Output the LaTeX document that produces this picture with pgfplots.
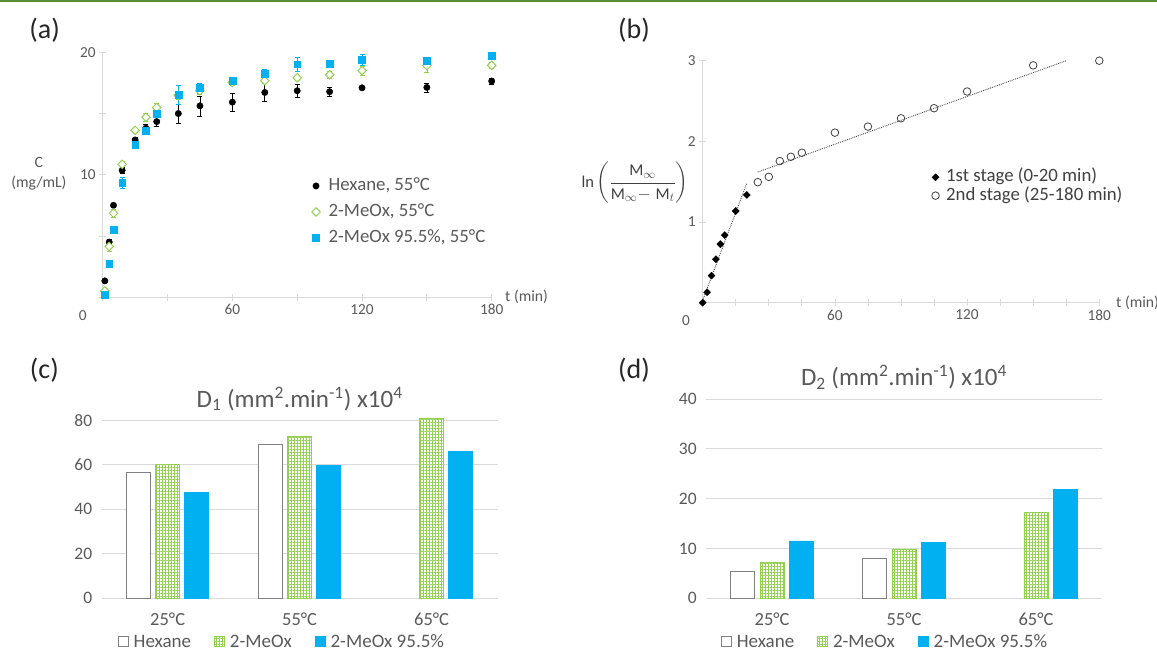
\documentclass[border=0pt]{standalone}
\usepackage{amsmath}
\usepackage{fontspec}
\setmainfont{Carlito}
\usepackage{pgfplots}
\usepackage{pgfplotstable}
\pgfplotsset{compat=1.18}
\usetikzlibrary{patterns.meta}
\definecolor{txt}{HTML}{595959}
\definecolor{axg}{HTML}{D9D9D9}
\definecolor{grn}{HTML}{92D050}
\definecolor{blu}{HTML}{00B0F0}
\definecolor{hdr}{RGB}{88,140,50}
\definecolor{hexg}{HTML}{808080}

\pgfplotstableread{
t c e
1 1.34 0.1
3 4.51 0.25
5 7.51 0.15
9 10.36 0.25
15 12.84 0.2
20 13.80 0.3
25 14.34 0.4
35 15.00 0.8
45 15.63 0.82
60 15.93 0.72
75 16.72 0.75
90 16.86 0.55
105 16.78 0.38
120 17.10 0.15
150 17.13 0.37
180 17.65 0.25
}\hexA
\pgfplotstableread{
t c e
1 0.52 0.1
3 4.15 0.4
5 6.86 0.35
9 10.85 0.3
15 13.63 0.15
20 14.70 0.3
25 15.49 0.35
35 16.50 0.3
45 16.86 0.3
60 17.54 0.25
75 17.68 0.2
90 17.92 0.2
105 18.17 0.25
120 18.50 0.4
150 18.91 0.5
180 18.93 0.25
}\meoxA
\pgfplotstableread{
t c e
1 0.19 0.05
3 2.73 0.1
5 5.49 0.1
9 9.34 0.45
15 12.43 0.2
20 13.58 0.3
25 15.00 0.3
35 16.53 0.8
45 17.10 0.4
60 17.68 0.25
75 18.25 0.4
90 19.02 0.55
105 19.07 0.25
120 19.37 0.45
150 19.34 0.2
180 19.70 0.15
}\blueA

\begin{document}
\begin{tikzpicture}
\useasboundingbox (0pt,0pt) rectangle (1157pt,650pt);
\fill[hdr] (0pt,648pt) rectangle (1157pt,650pt);
\node[font=\fontsize{28}{32}\selectfont, text=black!85] at (44.6pt,620pt) {(a)};
\node[font=\fontsize{28}{32}\selectfont, text=black!85] at (634pt,620pt) {(b)};
\node[font=\fontsize{28}{32}\selectfont, text=black!85] at (44.4pt,280pt) {(c)};
\node[font=\fontsize{28}{32}\selectfont, text=black!85] at (634pt,279.3pt) {(d)};

% ---------------- (a)
\begin{axis}[
  at={(102.7pt,352.7pt)}, anchor=south west,
  scale only axis, width=389pt, height=245pt,
  xmin=0, xmax=180, ymin=0, ymax=20,
  axis x line*=bottom, axis y line*=left,
  axis line style={draw=axg, line width=0.8pt},
  xtick={0,30,...,180}, xticklabels={,,60,,120,,180},
  ytick={0,5,...,20}, yticklabels={,,10,,20},
  tick align=center, major tick length=7pt,
  tick style={draw=axg, line width=0.8pt},
  ticklabel style={font=\fontsize{15.3}{18}\selectfont, text=txt},
  clip=false,
  xlabel={t (min)},
  xlabel style={at={(axis description cs:1,0)}, anchor=west, xshift=10pt, font=\fontsize{15.7}{18}\selectfont, text=txt},
  ylabel={C\\(mg/mL)},
  ylabel style={at={(axis description cs:-0.164,0.503)}, rotate=-90, anchor=center, align=center, font=\fontsize{15.7}{20}\selectfont, text=txt},
  legend style={at={(0.537,0.49)}, anchor=north west, draw=none, fill=none, inner sep=0pt, row sep=9pt, font=\fontsize{18.8}{22}\selectfont, text=txt, nodes={inner sep=0pt, text height=13pt, text depth=4pt}, /tikz/every odd column/.append style={column sep=8.4pt}},
  legend cell align=left,
  legend image code/.code={\draw[#1] plot coordinates {(0pt,0pt)};},
]
\addlegendimage{only marks, mark=*, mark size=3.2pt, black}
\addlegendimage{only marks, mark=square*, mark size=3pt, mark options={rotate=45, draw=grn, fill=white, line width=1pt}}
\addlegendimage{only marks, mark=square*, mark size=3.4pt, blu}
\addplot[only marks, mark=*, mark size=3.2pt, black, forget plot,
  error bars/.cd, y dir=both, y explicit,
  error bar style={black, line width=0.7pt},
  error mark options={black, rotate=90, mark size=2.5pt}]
  table[x=t, y=c, y error=e]{\hexA};
\addplot[only marks, mark=square*, mark size=3pt, mark options={rotate=45, draw=grn, fill=white, line width=1pt}, grn, forget plot,
  error bars/.cd, y dir=both, y explicit,
  error bar style={grn, line width=0.7pt},
  error mark options={grn, rotate=90, mark size=2.5pt}]
  table[x=t, y=c, y error=e]{\meoxA};
\addplot[only marks, mark=square*, mark size=3.4pt, blu, forget plot,
  error bars/.cd, y dir=both, y explicit,
  error bar style={blu, line width=0.7pt},
  error mark options={blu, rotate=90, mark size=2.5pt}]
  table[x=t, y=c, y error=e]{\blueA};
\legend{Hexane\text{,} 55°C, 2-MeOx\text{,} 55°C, 2-MeOx 95.5\%\text{,} 55°C}
\node[font=\fontsize{15.3}{18}\selectfont, text=txt] at (axis cs:0,0) [xshift=-20pt, yshift=-18pt] {0};
\end{axis}

% ---------------- (b)
\begin{axis}[
  at={(702.7pt,347.3pt)}, anchor=south west,
  scale only axis, width=396.6pt, height=242pt,
  xmin=0, xmax=180, ymin=0, ymax=3,
  axis x line*=bottom, axis y line*=left,
  axis line style={draw=axg, line width=0.8pt},
  xtick={0,15,...,180}, xticklabels={,,,,60,,,,120,,,,180},
  ytick={1,2,3},
  /pgf/number format/assume math mode=true,
  tick align=center, major tick length=7pt,
  tick style={draw=axg, line width=0.8pt},
  ticklabel style={font=\fontsize{15.3}{18}\selectfont, text=txt},
  clip=false,
  xlabel={t (min)},
  xlabel style={at={(axis description cs:1,0)}, anchor=west, xshift=13.4pt, font=\fontsize{15.7}{18}\selectfont, text=txt},
  ylabel={$\mathrm{ln}\left(\dfrac{\mathrm{M}_{\infty}}{\mathrm{M}_{\infty}{-}\;\mathrm{M}_{t}}\right)$},
  ylabel style={at={(axis description cs:-0.1707,0.4946)}, rotate=-90, anchor=center, font=\fontsize{16.5}{19}\selectfont, text=black!75},
  legend style={at={(0.577,0.554)}, anchor=north west, draw=none, fill=none, inner sep=0pt, row sep=1.3pt, font=\fontsize{18.8}{22}\selectfont, text=black!75, nodes={inner sep=0pt, text height=13pt, text depth=4pt}, /tikz/every odd column/.append style={column sep=6.8pt}},
  legend cell align=left,
  legend image code/.code={\draw[#1] plot coordinates {(0pt,0pt)};},
]
\addplot[only marks, mark=square*, mark size=2.5pt, mark options={rotate=45}, black]
  coordinates {(0,0) (2,0.129) (4,0.336) (6,0.539) (8,0.726) (10,0.838) (15,1.137) (20,1.336)};
\addlegendentry{1st stage (0-20 min)}
\addplot[only marks, mark=o, mark size=3.8pt, black!75, line width=0.8pt]
  coordinates {(25,1.494) (30,1.560) (35,1.755) (40,1.809) (45,1.859) (60,2.108) (75,2.183) (90,2.286) (105,2.411) (120,2.618) (150,2.942) (180,3.0)};
\addlegendentry{2nd stage (25-180 min)}
\addplot[densely dotted, black!70, line width=0.9pt, forget plot] coordinates {(0,0.03) (20,1.48)};
\addplot[densely dotted, black!70, line width=0.9pt, forget plot] coordinates {(25,1.62) (165,3.0)};
\node[font=\fontsize{15.3}{18}\selectfont, text=txt] at (axis cs:0,0) [xshift=-16.7pt, yshift=-18pt] {0};
\end{axis}

% ---------------- (c)
\begin{axis}[
  at={(101.7pt,51.7pt)}, anchor=south west,
  scale only axis, width=395.9pt, height=178pt,
  ybar=5.2pt, bar width=24pt,
  xmin=-0.5, xmax=2.5, ymin=0, ymax=80,
  xtick={0,1,2}, xticklabels={25°C,55°C,65°C},
  ytick={0,20,...,80},
  ymajorgrids, grid style={draw=axg, line width=0.8pt},
  axis line style={draw=none}, major tick length=0pt,
  xticklabel style={font=\fontsize{18.5}{22}\selectfont, text=txt, yshift=-11pt},
  yticklabel style={font=\fontsize{17.5}{20}\selectfont, text=txt, xshift=-6pt},
  /pgf/number format/assume math mode=true,
  title={D\textsubscript{1} (mm\textsuperscript{2}.min\textsuperscript{-1}) x10\textsuperscript{4}},
  title style={at={(0.5,1)}, anchor=center, yshift=15.6pt, font=\fontsize{25}{28}\selectfont, text=txt},
  clip=false,
  legend style={at={(0.040,-0.244)}, anchor=west, legend columns=-1, draw=none, fill=none, inner sep=0pt, font=\fontsize{19}{22}\selectfont, text=txt, nodes={inner sep=0pt}, /tikz/every even column/.append style={column sep=23pt}, /tikz/every odd column/.append style={column sep=5pt}},
  legend image code/.code={\draw[#1] (0pt,-5pt) rectangle (10pt,5pt);},
]
\addplot[fill=white, draw=hexg, line width=1pt] coordinates {(0,56.7) (1,69.2)};
\addlegendentry{Hexane}
\addplot[fill=white, draw=grn, line width=0.8pt, postaction={pattern color=grn, pattern={Hatch[distance=3pt, line width=0.5pt]}}] coordinates {(0,60.2) (1,72.8) (2,81)};
\addlegendentry{2-MeOx}
\addplot[fill=blu, draw=blu, line width=0.8pt] coordinates {(0,47.7) (1,59.9) (2,65.9)};
\addlegendentry{2-MeOx 95.5\%}
\end{axis}

% ---------------- (d)
\begin{axis}[
  at={(706.2pt,51.7pt)}, anchor=south west,
  scale only axis, width=395.7pt, height=199.3pt,
  ybar=5.2pt, bar width=24pt,
  xmin=-0.5, xmax=2.5, ymin=0, ymax=40,
  xtick={0,1,2}, xticklabels={25°C,55°C,65°C},
  ytick={0,10,...,40},
  ymajorgrids, grid style={draw=axg, line width=0.8pt},
  axis line style={draw=none}, major tick length=0pt,
  xticklabel style={font=\fontsize{18.5}{22}\selectfont, text=txt, yshift=-11pt},
  yticklabel style={font=\fontsize{17.5}{20}\selectfont, text=txt, xshift=-6pt},
  /pgf/number format/assume math mode=true,
  title={D\textsubscript{2} (mm\textsuperscript{2}.min\textsuperscript{-1}) x10\textsuperscript{4}},
  title style={at={(0.5,1)}, anchor=center, yshift=16pt, font=\fontsize{25}{28}\selectfont, text=txt},
  clip=false,
  legend style={at={(0.0364,-0.218)}, anchor=west, legend columns=-1, draw=none, fill=none, inner sep=0pt, font=\fontsize{19}{22}\selectfont, text=txt, nodes={inner sep=0pt}, /tikz/every even column/.append style={column sep=23pt}, /tikz/every odd column/.append style={column sep=5pt}},
  legend image code/.code={\draw[#1] (0pt,-5pt) rectangle (10pt,5pt);},
]
\addplot[fill=white, draw=hexg, line width=1pt] coordinates {(0,5.4) (1,8.0)};
\addlegendentry{Hexane}
\addplot[fill=white, draw=grn, line width=0.8pt, postaction={pattern color=grn, pattern={Hatch[distance=3pt, line width=0.5pt]}}] coordinates {(0,7.2) (1,9.9) (2,17.2)};
\addlegendentry{2-MeOx}
\addplot[fill=blu, draw=blu, line width=0.8pt] coordinates {(0,11.5) (1,11.2) (2,21.8)};
\addlegendentry{2-MeOx 95.5\%}
\end{axis}
\end{tikzpicture}
\end{document}
